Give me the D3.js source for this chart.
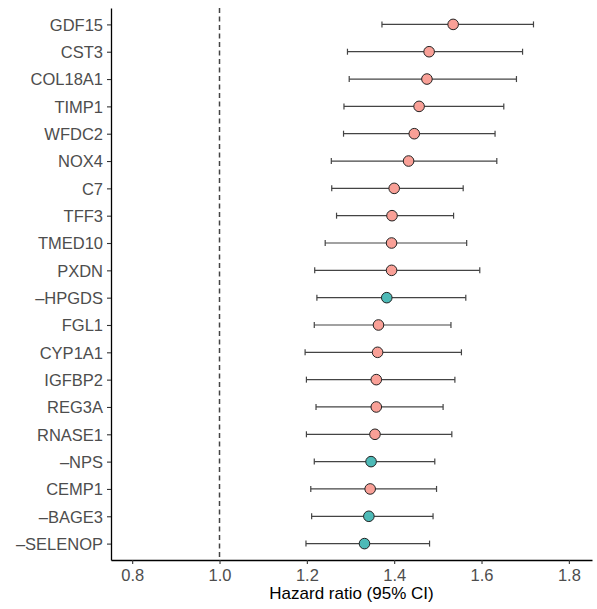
<!DOCTYPE html>
<html>
<head>
<meta charset="utf-8">
<style>
    body { margin: 0; background: #fff; }
    svg { display: block; font-family: 'Liberation Sans', Arial, sans-serif; }
</style>
</head>
<body>
<svg width="597" height="609"></svg>
<script src="https://d3js.org/d3.v7.min.js"></script>
<script>
    // data, top to bottom
    const proteins = ["GDF15", "CST3", "COL18A1", "TIMP1", "WFDC2", "NOX4", "C7", "TFF3", "TMED10", "PXDN",
        "\u2013HPGDS", "FGL1", "CYP1A1", "IGFBP2", "REG3A", "RNASE1", "\u2013NPS", "CEMP1", "\u2013BAGE3", "\u2013SELENOP"]
    const hr = [1.535, 1.480, 1.475, 1.457, 1.446, 1.433, 1.400, 1.395, 1.394, 1.394,
        1.383, 1.364, 1.362, 1.359, 1.359, 1.356, 1.347, 1.345, 1.342, 1.332]
    const lower = [1.372, 1.293, 1.297, 1.285, 1.284, 1.256, 1.257, 1.268, 1.242, 1.218,
        1.223, 1.217, 1.196, 1.199, 1.221, 1.199, 1.217, 1.209, 1.211, 1.198]
    const upper = [1.719, 1.694, 1.680, 1.651, 1.631, 1.635, 1.558, 1.536, 1.566, 1.596,
        1.564, 1.530, 1.554, 1.539, 1.512, 1.532, 1.493, 1.497, 1.489, 1.481]
    const direction = ["up", "up", "up", "up", "up", "up", "up", "up", "up", "up",
        "down", "up", "up", "up", "up", "up", "down", "up", "down", "down"]
    const xTicks = [0.8, 1.0, 1.2, 1.4, 1.6, 1.8]

    const data = proteins.map((p, i) => ({ name: p, hr: hr[i], lo: lower[i], hi: upper[i], dir: direction[i] }))

    const margin = { top: 8, right: 5, bottom: 49, left: 111 }
    const width = 597, height = 609
    const svg = d3.select("svg")

    const x = d3.scaleLinear()
        .domain([0.7515, 1.853])
        .range([margin.left, width - margin.right])
    const y = d3.scalePoint()
        .domain(proteins)
        .range([margin.top, height - margin.bottom])
        .padding(0.6)

    const color = { up: "#f9a097", down: "#4dbab7" }

    // reference line at HR = 1
    svg.append("line")
        .attr("x1", x(1)).attr("x2", x(1))
        .attr("y1", margin.top).attr("y2", height - margin.bottom)
        .style("stroke", "#444")
        .style("stroke-width", 1.5)
        .style("stroke-dasharray", "5,3.5")

    // axes
    const xAxis = svg.append("g")
        .attr("transform", `translate(0,${height - margin.bottom})`)
        .call(d3.axisBottom(x).tickValues(xTicks).tickFormat(d3.format(".1f")).tickSize(4).tickSizeOuter(0))
    const yAxis = svg.append("g")
        .attr("transform", `translate(${margin.left},0)`)
        .call(d3.axisLeft(y).tickSize(4).tickSizeOuter(0))

    for (const ax of [xAxis, yAxis]) {
        ax.select(".domain").style("stroke", "#000").style("stroke-width", 1.3)
        ax.selectAll(".tick line").style("stroke", "#333").style("stroke-width", 1.1)
        ax.selectAll(".tick text").style("fill", "#4d4d4d").style("font-size", "16.5px")
            .style("font-family", "'Liberation Sans', Arial, sans-serif")
    }
    xAxis.selectAll(".tick text").attr("dy", "0.71em").attr("y", 9)
    yAxis.selectAll(".tick text").attr("x", -8).attr("dy", "0.35em")

    // error bars
    const rows = svg.append("g").selectAll("g")
        .data(data)
        .join("g")
        .attr("transform", d => `translate(0,${y(d.name)})`)

    rows.append("line")
        .attr("x1", d => x(d.lo)).attr("x2", d => x(d.hi))
        .style("stroke", "#444").style("stroke-width", 1.2)
    rows.append("line")
        .attr("x1", d => x(d.lo)).attr("x2", d => x(d.lo))
        .attr("y1", -3).attr("y2", 3)
        .style("stroke", "#444").style("stroke-width", 1.2)
    rows.append("line")
        .attr("x1", d => x(d.hi)).attr("x2", d => x(d.hi))
        .attr("y1", -3).attr("y2", 3)
        .style("stroke", "#444").style("stroke-width", 1.2)

    rows.append("circle")
        .attr("cx", d => x(d.hr))
        .attr("r", 5.3)
        .style("fill", d => color[d.dir])
        .style("stroke", "#222")
        .style("stroke-width", 1)

    // axis title
    svg.append("text")
        .attr("x", (margin.left + width - margin.right) / 2)
        .attr("y", 599)
        .attr("text-anchor", "middle")
        .style("font-size", "17px")
        .style("fill", "#000")
        .text("Hazard ratio (95% CI)")
</script>
</body>
</html>
